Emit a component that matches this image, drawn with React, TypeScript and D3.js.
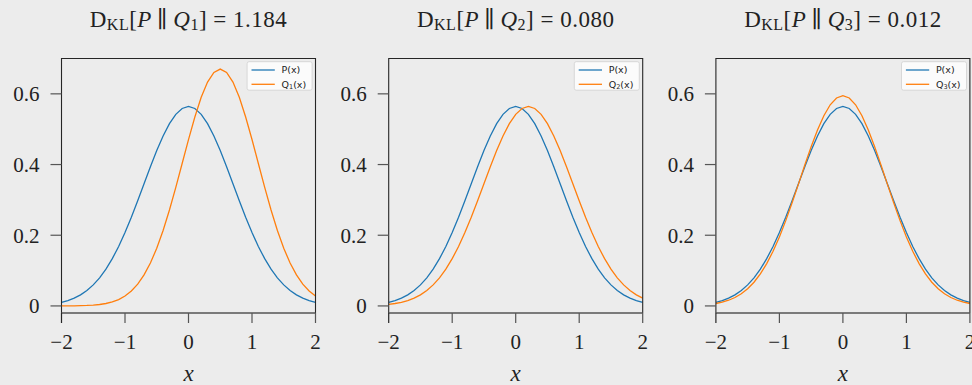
import { useEffect, useRef } from 'react';
import * as d3 from 'd3';

// sample grid
const xs = [
    -2.0, -1.9, -1.8, -1.7, -1.6, -1.5, -1.4, -1.3, -1.2, -1.1, -1.0, -0.9, -0.8, -0.7,
    -0.6, -0.5, -0.4, -0.3, -0.2, -0.1, 0.0, 0.1, 0.2, 0.3, 0.4, 0.5, 0.6, 0.7, 0.8, 0.9,
    1.0, 1.1, 1.2, 1.3, 1.4, 1.5, 1.6, 1.7, 1.8, 1.9, 2.0,
];

const pValues = [
    0.0103, 0.0153, 0.0221, 0.0314, 0.0436, 0.0595, 0.0795, 0.1041, 0.1337, 0.1682, 0.2076,
    0.2510, 0.2975, 0.3457, 0.3936, 0.4394, 0.4808, 0.5156, 0.5421, 0.5586, 0.5642, 0.5586,
    0.5421, 0.5156, 0.4808, 0.4394, 0.3936, 0.3457, 0.2975, 0.2510, 0.2076, 0.1682, 0.1337,
    0.1041, 0.0795, 0.0595, 0.0436, 0.0314, 0.0221, 0.0153, 0.0103,
];

const q1Values = [
    0.0001, 0.0002, 0.0004, 0.0007, 0.0013, 0.0024, 0.0041, 0.0069, 0.0113, 0.0180, 0.0279,
    0.0421, 0.0616, 0.0877, 0.1213, 0.1632, 0.2135, 0.2714, 0.3354, 0.4030, 0.4707, 0.5345,
    0.5901, 0.6332, 0.6606, 0.6700, 0.6606, 0.6332, 0.5901, 0.5345, 0.4707, 0.4030, 0.3354,
    0.2714, 0.2135, 0.1632, 0.1213, 0.0877, 0.0616, 0.0421, 0.0279,
];

const q2Values = [
    0.0045, 0.0069, 0.0103, 0.0153, 0.0221, 0.0314, 0.0436, 0.0595, 0.0795, 0.1041, 0.1337,
    0.1682, 0.2076, 0.2510, 0.2975, 0.3457, 0.3936, 0.4394, 0.4808, 0.5156, 0.5421, 0.5586,
    0.5642, 0.5586, 0.5421, 0.5156, 0.4808, 0.4394, 0.3936, 0.3457, 0.2975, 0.2510, 0.2076,
    0.1682, 0.1337, 0.1041, 0.0795, 0.0595, 0.0436, 0.0314, 0.0221,
];

const q3Values = [
    0.0069, 0.0107, 0.0161, 0.0238, 0.0344, 0.0485, 0.0671, 0.0906, 0.1197, 0.1546, 0.1953,
    0.2413, 0.2917, 0.3447, 0.3985, 0.4503, 0.4979, 0.5382, 0.5691, 0.5884, 0.5950, 0.5884,
    0.5691, 0.5382, 0.4979, 0.4503, 0.3985, 0.3447, 0.2917, 0.2413, 0.1953, 0.1546, 0.1197,
    0.0906, 0.0671, 0.0485, 0.0344, 0.0238, 0.0161, 0.0107, 0.0069,
];

const qSeries = [q1Values, q2Values, q3Values];
const qIndex = ['1', '2', '3'];
const klValues = ['1.184', '0.080', '0.012'];

const xTicks = [-2, -1, 0, 1, 2];
const xTickLabels = ['\u22122', '\u22121', '0', '1', '2'];
const yTicks = [0, 0.2, 0.4, 0.6];
const yTickLabels = ['0', '0.2', '0.4', '0.6'];

const W = 972;
const H = 385;
const SERIF = '"Liberation Serif", "DejaVu Serif", serif';
const SANS = '"DejaVu Sans", sans-serif';

export default function App() {
    const ref = useRef<SVGSVGElement>(null);

    useEffect(() => {
        if (!ref.current) return;
        const svg = d3.select(ref.current);
        svg.selectAll('*').remove();

        svg.append('rect').attr('width', W).attr('height', H).attr('fill', '#ececec');

        const panelW = 254;
        const gap = 73.2;
        const top = 58.5;
        const bottom = 313;

        const y = d3.scaleLinear().domain([-0.02, 0.7]).range([bottom, top]);

        qSeries.forEach((q, i) => {
            const left = 61.5 + i * (panelW + gap);
            const right = left + panelW;
            const cx = (left + right) / 2;
            const x = d3.scaleLinear().domain([-2, 2]).range([left, right]);

            const g = svg.append('g');
            const clipId = `clip-${i}`;
            svg.append('defs').append('clipPath').attr('id', clipId)
                .append('rect')
                .attr('x', left).attr('y', top)
                .attr('width', panelW).attr('height', bottom - top);

            // curves
            const line = d3.line<number>()
                .x((_, k) => x(xs[k]))
                .y(d => y(d));

            const curves = g.append('g').attr('clip-path', `url(#${clipId})`);
            curves.append('path')
                .datum(pValues)
                .attr('fill', 'none')
                .attr('stroke', '#1f77b4')
                .attr('stroke-width', 1.3)
                .attr('d', line);
            curves.append('path')
                .datum(q)
                .attr('fill', 'none')
                .attr('stroke', '#ff7f0e')
                .attr('stroke-width', 1.3)
                .attr('d', line);

            // spines
            g.append('path')
                .attr('d', `M${left},${bottom}V${top}H${right}V${bottom}`)
                .attr('fill', 'none')
                .attr('stroke', '#262626')
                .attr('stroke-width', 1.1);
            g.append('line')
                .attr('x1', left).attr('x2', right)
                .attr('y1', bottom).attr('y2', bottom)
                .attr('stroke', '#555')
                .attr('stroke-width', 1.3);

            // x ticks
            xTicks.forEach((t, k) => {
                g.append('line')
                    .attr('x1', x(t)).attr('x2', x(t))
                    .attr('y1', bottom).attr('y2', bottom + 10)
                    .attr('stroke', k === 0 ? '#262626' : '#555')
                    .attr('stroke-width', 1.2);
                g.append('text')
                    .attr('x', x(t))
                    .attr('y', 349)
                    .attr('text-anchor', 'middle')
                    .attr('font-family', SERIF)
                    .attr('font-size', 21)
                    .attr('fill', '#222')
                    .text(xTickLabels[k]);
            });

            // y ticks
            yTicks.forEach((t, k) => {
                g.append('line')
                    .attr('x1', left - 11).attr('x2', left)
                    .attr('y1', y(t)).attr('y2', y(t))
                    .attr('stroke', '#555')
                    .attr('stroke-width', 1.2);
                g.append('text')
                    .attr('x', left - 22)
                    .attr('y', y(t))
                    .attr('dy', '0.35em')
                    .attr('text-anchor', 'end')
                    .attr('font-family', SERIF)
                    .attr('font-size', 21)
                    .attr('fill', '#222')
                    .text(yTickLabels[k]);
            });

            // x label
            g.append('text')
                .attr('x', cx)
                .attr('y', 381)
                .attr('text-anchor', 'middle')
                .attr('font-family', SERIF)
                .attr('font-style', 'italic')
                .attr('font-size', 23)
                .attr('fill', '#222')
                .text('x');

            // title
            const title = g.append('text')
                .attr('x', cx)
                .attr('y', 27)
                .attr('text-anchor', 'middle')
                .attr('font-family', SERIF)
                .attr('font-size', 23)
                .attr('letter-spacing', 0.5)
                .attr('fill', '#222');
            title.append('tspan').text('D');
            title.append('tspan').attr('font-size', 16).attr('dy', 3).text('KL');
            title.append('tspan').attr('dy', -3).text('[');
            title.append('tspan').attr('font-style', 'italic').text('P');
            title.append('tspan').text('\u2009\u2225\u2009');
            title.append('tspan').attr('font-style', 'italic').text('Q');
            title.append('tspan').attr('font-size', 16).attr('dy', 3).text(qIndex[i]);
            title.append('tspan').attr('dy', -3).text(`] = ${klValues[i]}`);

            // legend
            const lw = 65;
            const lx = right - 3.4 - lw;
            const ly = top + 3.2;
            const leg = g.append('g');
            leg.append('rect')
                .attr('x', lx).attr('y', ly)
                .attr('width', lw).attr('height', 28.5)
                .attr('rx', 2)
                .attr('fill', '#fff')
                .attr('fill-opacity', 0.8)
                .attr('stroke', '#d0d0d0')
                .attr('stroke-width', 0.8);
            [['#1f77b4', 0], ['#ff7f0e', 1]].forEach(([c, r]) => {
                const yy = ly + 8.3 + (r as number) * 14.3;
                leg.append('line')
                    .attr('x1', lx + 4.4).attr('x2', lx + 27.7)
                    .attr('y1', yy).attr('y2', yy)
                    .attr('stroke', c as string)
                    .attr('stroke-width', 1.3);
                const t = leg.append('text')
                    .attr('x', lx + 34.4)
                    .attr('y', yy)
                    .attr('dy', '0.35em')
                    .attr('font-family', SANS)
                    .attr('font-size', 9.5)
                    .attr('fill', '#222');
                if (r === 0) {
                    t.text('P(x)');
                } else {
                    t.append('tspan').text('Q');
                    t.append('tspan').attr('font-size', 6.5).attr('dy', 1.5).text(qIndex[i]);
                    t.append('tspan').attr('dy', -1.5).text('(x)');
                }
            });
        });
    }, []);

    return (
        <div style={{ position: 'absolute', left: 0, top: 0, width: W, height: H }}>
            <svg ref={ref} width={W} height={H} style={{ display: 'block' }} />
        </div>
    );
}
